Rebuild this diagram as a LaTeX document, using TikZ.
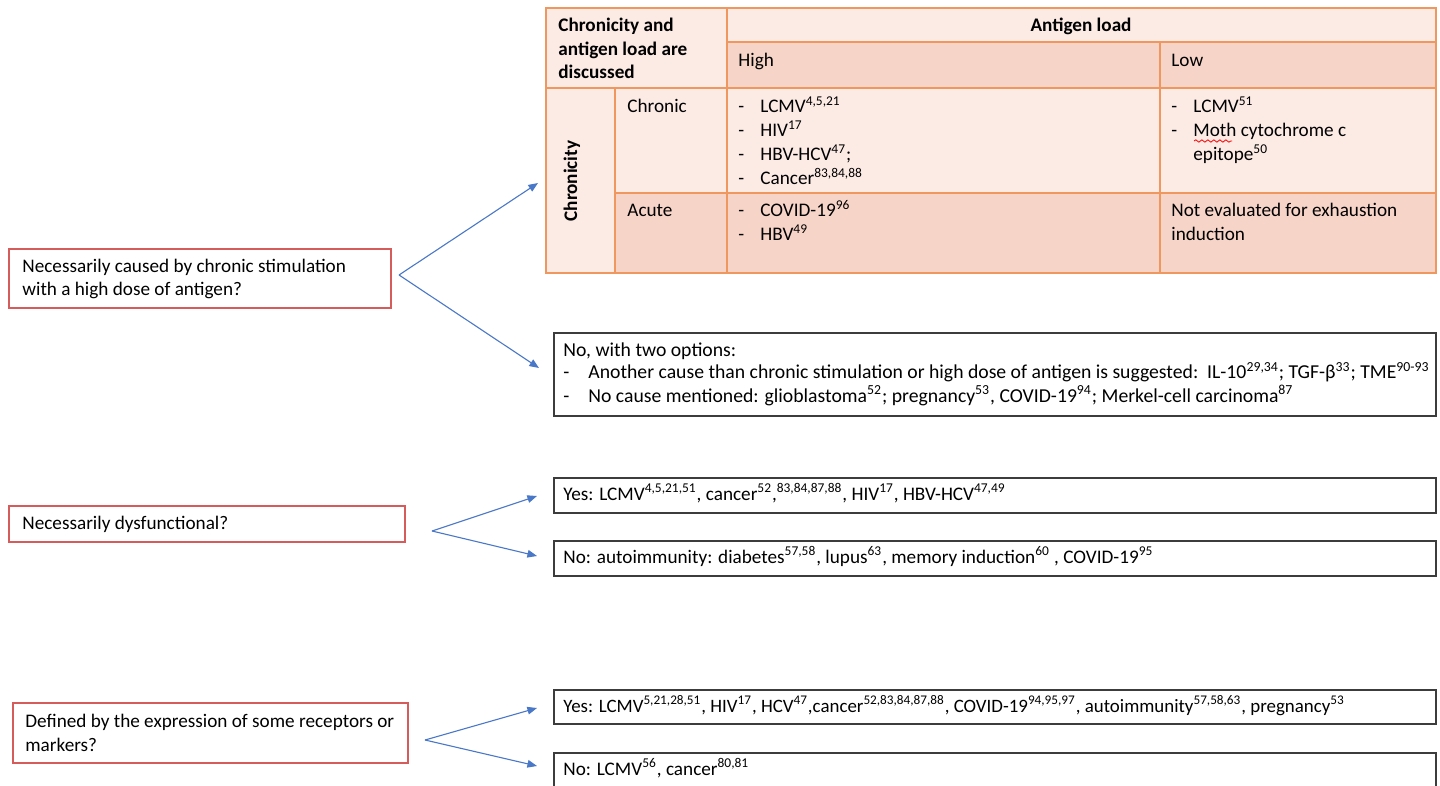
\documentclass[tikz,border=0pt]{standalone}
\usepackage{fontspec}
\setmainfont{Carlito}
\usetikzlibrary{arrows.meta,fit,decorations.pathmorphing}
\definecolor{tabor}{RGB}{240,150,95}
\definecolor{tlight}{RGB}{252,234,228}
\definecolor{tdark}{RGB}{247,212,200}
\definecolor{redb}{RGB}{214,92,92}
\definecolor{arrblue}{RGB}{74,120,200}
\definecolor{boxgray}{RGB}{60,60,60}
\newcommand\lns[1]{\begin{tabular}[t]{@{}l@{}}#1\end{tabular}}
\newcommand\dl[1]{\makebox[11pt][l]{-}#1}
\newcommand\dlb[1]{\makebox[12.5pt][l]{-}#1}
\newcommand\sps[1]{\textsuperscript{#1}}
\begin{document}
\begin{tikzpicture}[x=0.5pt,y=-0.5pt,
  txt/.style={inner sep=0pt, anchor=base west, font=\fontsize{9.6}{12}\selectfont},
  txtb/.style={inner sep=0pt, anchor=base west, font=\fontsize{9.85}{11}\selectfont},
  cellL/.style={draw=tabor, line width=1pt, fill=tlight, inner sep=0pt},
  cellD/.style={cellL, fill=tdark},
  qbox/.style={draw=redb, line width=0.8pt, inner sep=0pt},
  abox/.style={draw=boxgray, line width=0.8pt, inner sep=0pt},
  arr/.style={draw=arrblue, line width=0.55pt, -{Triangle[length=4.8pt,width=3.8pt]}}]
\useasboundingbox (0,0) rectangle (1440,786);
\fill[white] (0,0) rectangle (1440,786);

% ---- table cells
\node[cellL, fit={(546,8)(727,88)}] (ctl) {};
\node[cellL, fit={(727,8)(1436,42)}] (cag) {};
\node[cellD, fit={(727,42)(1160,88)}] (chi) {};
\node[cellD, fit={(1160,42)(1436,88)}] (clo) {};
\node[cellL, fit={(546,88)(615,273)}] (cchr) {};
\node[cellL, fit={(615,88)(727,193)}] (cchronic) {};
\node[cellL, fit={(727,88)(1160,193)}] (chc) {};
\node[cellL, fit={(1160,88)(1436,193)}] (clc) {};
\node[cellD, fit={(615,193)(727,273)}] (cacute) {};
\node[cellD, fit={(727,193)(1160,273)}] (cha) {};
\node[cellD, fit={(1160,193)(1436,273)}] (cla) {};

% ---- table texts
\node[txt, font=\fontsize{9.6}{11.75}\selectfont\bfseries] (ttl) at (558,32) {\lns{Chronicity and\\antigen load are\\discussed}};
\node[txt, anchor=base, font=\fontsize{9.6}{12}\selectfont\bfseries] (tag) at (1081,32) {Antigen load};
\node[txt] (thi) at (738,67) {High};
\node[txt] (tlo) at (1171,67) {Low};
\node[inner sep=0pt, rotate=90, font=\fontsize{9.6}{12}\selectfont\bfseries] (tchr) at (572,181) {Chronicity};
\node[txt] (tchronic) at (627,113) {Chronic};
\node[txt] (tacute) at (627,217) {Acute};
\node[txt] (thc) at (738,113) {\lns{\dl{LCMV\sps{4,5,21}}\\\dl{HIV\sps{17}}\\\dl{HBV-HCV\sps{47};}\\\dl{Cancer\sps{83,84,88}}}};
\node[txt] (tha) at (738,217) {\lns{\dl{COVID-19\sps{96}}\\\dl{HBV\sps{49}}}};
\node[txt] (tlc) at (1171,113) {\lns{\dl{LCMV\sps{51}}\\\dl{Moth cytochrome c}\\\hspace*{11pt}epitope\sps{50}}};
\node[txt] (tla) at (1171,217) {\lns{Not evaluated for exhaustion\\induction}};
\draw[red, line width=0.4pt, decorate, decoration={snake, amplitude=0.6pt, segment length=3pt}] (1194,141) -- (1232,141);

% ---- question boxes
\node[qbox, fit={(9,249)(391,308)}] (q1) {};
\node[txt] (q1t) at (22,272) {\lns{Necessarily caused by chronic stimulation\\with a high dose of antigen?}};
\node[qbox, fit={(9,506)(405,542)}] (q2) {};
\node[txt] (q2t) at (22,529) {Necessarily dysfunctional?};
\node[qbox, fit={(13,703)(408,763)}] (q3) {};
\node[txt] (q3t) at (25,727) {\lns{Defined by the expression of some receptors or\\markers?}};

% ---- answer boxes
\node[abox, fit={(554,333)(1436,416)}] (a1) {};
\node[txtb] (a1t) at (563,356) {\lns{No, with two options:\\\dlb{Another cause than chronic stimulation or high dose of antigen is suggested:\ \ IL-10\sps{29,34}; TGF-β\sps{33}; TME\sps{90-93}}\\\dlb{No cause mentioned: glioblastoma\sps{52}; pregnancy\sps{53}, COVID-19\sps{94}; Merkel-cell carcinoma\sps{87}}}};
\node[abox, fit={(554,478)(1436,513)}] (y2) {};
\node[txt] (y2t) at (563,500) {Yes: LCMV\sps{4,5,21,51}, cancer\sps{52},\sps{83,84,87,88}, HIV\sps{17}, HBV-HCV\sps{47,49}};
\node[abox, fit={(554,541)(1436,576)}] (n2) {};
\node[txt] (n2t) at (563,563) {No: autoimmunity: diabetes\sps{57,58}, lupus\sps{63}, memory induction\sps{60} , COVID-19\sps{95}};
\node[abox, fit={(554,690)(1436,724)}] (y3) {};
\node[txt, font=\fontsize{9.45}{12}\selectfont] (y3t) at (563,712) {Yes: LCMV\sps{5,21,28,51}, HIV\sps{17}, HCV\sps{47},cancer\sps{52,83,84,87,88}, COVID-19\sps{94,95,97}, autoimmunity\sps{57,58,63}, pregnancy\sps{53}};
\node[abox, fit={(554,753)(1436,795)}] (n3) {};
\node[txt] (n3t) at (563,775) {No: LCMV\sps{56}, cancer\sps{80,81}};

% ---- connectors
\coordinate (f1) at (399,275);
\coordinate (t1a) at (538,183);
\coordinate (t1b) at (539,368);
\coordinate (f2) at (432,531);
\coordinate (t2a) at (537,496);
\coordinate (t2b) at (537,556);
\coordinate (f3) at (425,740);
\coordinate (t3a) at (537,708);
\coordinate (t3b) at (537,766);
\draw[arr] (f1) -- (t1a);
\draw[arr] (f1) -- (t1b);
\draw[arr] (f2) -- (t2a);
\draw[arr] (f2) -- (t2b);
\draw[arr] (f3) -- (t3a);
\draw[arr] (f3) -- (t3b);
\end{tikzpicture}
\end{document}
